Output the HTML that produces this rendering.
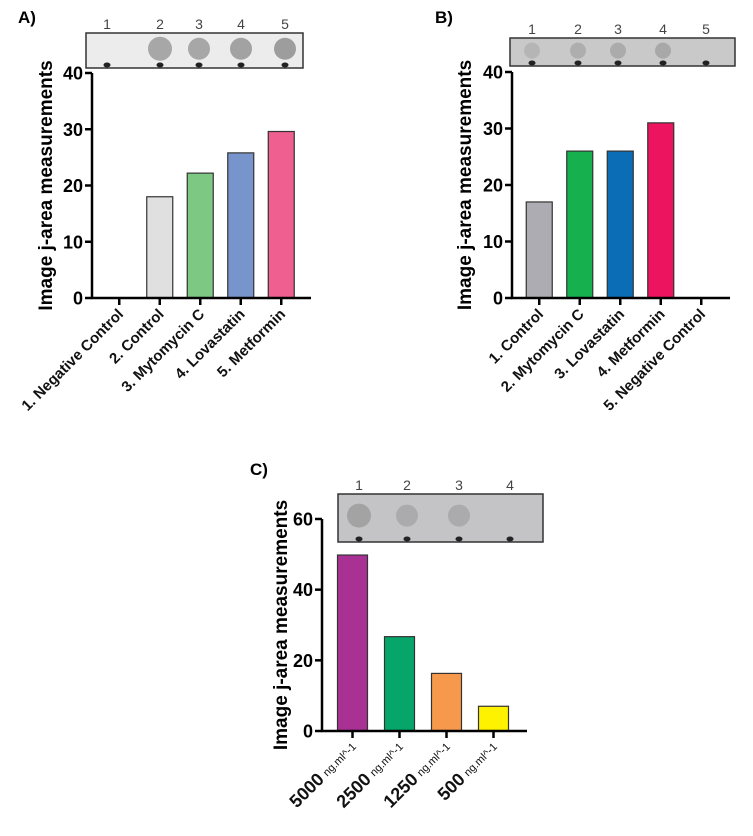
<!DOCTYPE html>
<html><head><meta charset="utf-8"><style>
body{margin:0;background:#fff;}
svg text{font-family:"Liberation Sans",Arial,sans-serif;}
</style></head><body>
<svg id="fig" width="753" height="831" viewBox="0 0 753 831" xmlns="http://www.w3.org/2000/svg"></svg>
<script>
const catsA=["1. Negative Control","2. Control","3. Mytomycin C","4. Lovastatin","5. Metformin"];
const valsA=[0,18,22.2,25.8,29.6];
const colsA=["#ffffff","#e0e0e0","#7dc882","#7795cc","#ef5f8f"];
const ticksA=[0,10,20,30,40];
const catsB=["1. Control","2. Mytomycin C","3. Lovastatin","4. Metformin","5. Negative Control"];
const valsB=[17,26,26,31,0];
const colsB=["#acacb2","#17b04f","#0b6db6","#ec145e","#ffffff"];
const ticksB=[0,10,20,30,40];
const catsC=["5000","2500","1250","500"];
const valsC=[49.8,26.7,16.3,7];
const colsC=["#a83193","#06a66a","#f7994c","#fff200"];
const ticksC=[0,20,40,60];

const NS="http://www.w3.org/2000/svg";
const svg=document.getElementById('fig');
function mk(tag,attrs,parent,txt){const e=document.createElementNS(NS,tag);for(const k in attrs)e.setAttribute(k,attrs[k]);if(txt!==undefined)e.textContent=txt;(parent||svg).appendChild(e);return e;}

function blot(x,y,w,h,spots,bg,spotCol,labels){
  const g=mk('g',{});
  
  
  mk('rect',{x:x,y:y,width:w,height:h,fill:bg,stroke:'#333','stroke-width':1.5},g);
  spots.forEach((s,i)=>{
    if(s.r>0) mk('circle',{cx:s.x,cy:y+h*0.45,r:s.r,fill:spotCol,opacity:s.o},g);
    mk('ellipse',{cx:s.x,cy:y+h-3,rx:3.5,ry:2.5,fill:'#222'},g);
    const t=mk('text',{x:s.x,y:y-4,'font-size':14,'text-anchor':'middle',fill:'#444'},g,labels[i]);
    
    
  });
}

function chart(o){
  const g=mk('g',{});
  
  
  const y=v=>o.y0-(v/o.max)*(o.y0-o.y1);
  const xc=i=>o.x0+o.step*(i+0.5)+o.off;
  o.vals.forEach((v,i)=>{
    if(v<=0)return;
    const r=mk('rect',{x:xc(i)-o.bw/2,y:y(v),width:o.bw,height:o.y0-y(v),fill:o.cols[i],stroke:'#333','stroke-width':1.2},g);
    
    
  });
  const ax=mk('path',{d:`M${o.x0} ${o.y1}V${o.y0}H${o.x1}`,stroke:'#000','stroke-width':2.5,fill:'none'},g);
  
  
  o.ticks.forEach(t=>{
    mk('line',{x1:o.x0-7,x2:o.x0,y1:y(t),y2:y(t),stroke:'#000','stroke-width':2.5},g);
    const tl=mk('text',{x:o.x0-9,y:y(t)+6.5,'font-size':18,'font-weight':'bold','text-anchor':'end'},g,t);
    
    
  });
  o.cats.forEach((c,i)=>{
    const x=xc(i);
    mk('line',{x1:x,x2:x,y1:o.y0,y2:o.y0+7,stroke:'#000','stroke-width':2.5},g);
    const t=mk('text',{transform:`translate(${x+5},${o.y0+17}) rotate(-45)`,'font-size':o.fs,'font-weight':'bold','text-anchor':'end',fill:'#111'},g);
    
    
    if(o.unit){
      mk('tspan',{'font-size':18},t,c);
      mk('tspan',{'font-size':11,'font-weight':'normal',dx:4,dy:-1},t,o.unit);
    } else t.textContent=c;
  });
  const yt=mk('text',{transform:`translate(${o.tx},${(o.y0+o.y1)/2}) rotate(-90)`,'font-size':19,'font-weight':'bold','text-anchor':'middle'},g,'Image j-area measurements');
  
  
  const pl=mk('text',{x:o.px,y:o.py,'font-size':17,'font-weight':'bold'},g,o.panel);
  
  
}

blot(86,33,217,35,[{x:107,r:0,o:0},{x:160,r:12,o:.7},{x:199,r:11,o:.7},{x:241,r:11,o:.75},{x:285,r:11,o:.8}],'#ececec','#8a8a8a',['1','2','3','4','5']);
chart({name:'chart-a',panel:'A)',px:18,py:23,x0:92,x1:311,y0:298,y1:73,max:40,step:40.5,off:7,bw:26,vals:valsA,cols:colsA,cats:catsA,ticks:ticksA,tx:52,fs:15});

blot(510,38,225,28,[{x:532,r:8,o:.3},{x:578,r:8,o:.4},{x:618,r:8,o:.45},{x:663,r:8,o:.5},{x:706,r:0,o:0}],'#c9c9c9','#888',['1','2','3','4','5']);
chart({name:'chart-b',panel:'B)',px:435,py:23,x0:512,x1:730,y0:298,y1:72,max:40,step:40.5,off:7,bw:26,vals:valsB,cols:colsB,cats:catsB,ticks:ticksB,tx:471,fs:15});

blot(338,494,205,48,[{x:359,r:12,o:.55},{x:407,r:11,o:.4},{x:459,r:11,o:.4},{x:510,r:0,o:0}],'#c4c4c6','#888',['1','2','3','4']);
chart({name:'chart-c',panel:'C)',px:250,py:475,x0:322,x1:527,y0:731,y1:519,max:60,step:47,off:7,bw:30,vals:valsC,cols:colsC,cats:catsC,ticks:ticksC,tx:287,fs:16,unit:'ng.ml^-1'});
</script>
</body></html>
